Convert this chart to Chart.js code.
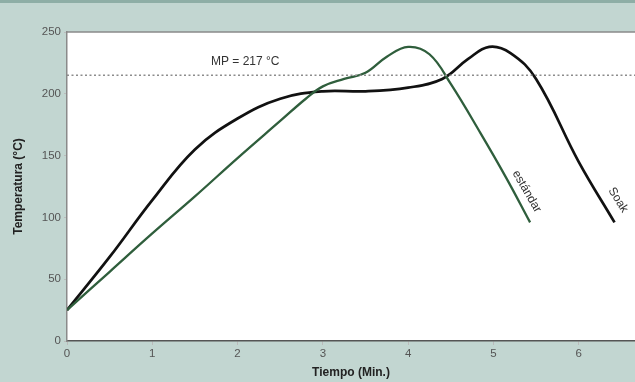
<!DOCTYPE html>
<html><head><meta charset="utf-8">
<script src="https://cdn.jsdelivr.net/npm/chart.js@4.4.1/dist/chart.umd.min.js"></script>
<style>
html,body{margin:0;padding:0;background:#c2d6d1;}
#wrap{width:635px;height:382px;position:relative;}
</style></head>
<body><div id="wrap"><canvas id="c" width="635" height="382"></canvas></div>
<script>
// Data (time in minutes, temperature in °C)
const soakTime  = [0, 0.5, 1, 1.5, 2, 2.5, 3, 3.5, 4, 4.4, 4.7, 4.95, 5.2, 5.5, 6.0, 6.42];
const soakTemp  = [25, 68, 114, 155, 180, 196, 202, 202, 205, 212, 228, 238, 233, 212, 145, 96];
const stdTime   = [0, 0.5, 1, 1.5, 2, 2.5, 2.8, 3.0, 3.25, 3.5, 3.75, 4.0, 4.25, 4.5, 4.85, 5.15, 5.43];
const stdTemp   = [25, 56, 87, 117, 148, 178, 196, 206, 212, 217, 230, 238, 232, 208, 168, 132, 96];
const mpTime    = [0, 6.66];
const mpTemp    = [215, 215];
const xTicks    = [0, 1, 2, 3, 4, 5, 6];
const yTicks    = [0, 50, 100, 150, 200, 250];
const labels    = [
  {text: 'MP = 217 °C', x: 2.09, y: 226, rot: 0},
  {text: 'estándar', x: 5.39, y: 121, rot: 60},
  {text: 'Soak', x: 6.46, y: 114, rot: 58}
];

const pts = (xs, ys) => xs.map((x, i) => ({x, y: ys[i]}));
const FONT = '"Liberation Sans", Arial, sans-serif';

const deco = {
  id: 'deco',
  beforeDraw(chart) {
    const c = chart.ctx;
    c.save();
    c.fillStyle = '#c2d6d1';
    c.fillRect(0, 0, chart.width, chart.height);
    c.fillStyle = '#8eaea6';
    c.fillRect(0, 0, chart.width, 3);
    const a = chart.chartArea;
    c.fillStyle = '#ffffff';
    c.fillRect(a.left, a.top, a.right - a.left, a.bottom - a.top);
    c.restore();
  },
  afterDraw(chart) {
    const c = chart.ctx, a = chart.chartArea;
    c.save();
    c.strokeStyle = '#8a8a8a';
    c.lineWidth = 1.5;
    c.beginPath(); c.moveTo(a.left, a.top); c.lineTo(a.right, a.top); c.stroke();
    const xs = chart.scales.x, ys = chart.scales.y;
    c.fillStyle = '#333333';
    c.font = '12px ' + FONT;
    c.textAlign = 'center'; c.textBaseline = 'middle';
    labels.forEach(l => {
      c.save();
      c.translate(xs.getPixelForValue(l.x), ys.getPixelForValue(l.y));
      c.rotate(l.rot * Math.PI / 180);
      c.fillText(l.text, 0, 0);
      c.restore();
    });
    c.restore();
  }
};

new Chart(document.getElementById('c'), {
  type: 'scatter',
  data: {
    datasets: [
      {data: pts(mpTime, mpTemp), showLine: true, borderColor: '#8c8c8c', borderWidth: 1.5, borderDash: [2, 2.5], pointRadius: 0, tension: 0},
      {data: pts(stdTime, stdTemp), showLine: true, borderColor: '#2f5e3c', borderWidth: 2.3, pointRadius: 0, tension: 0.4},
      {data: pts(soakTime, soakTemp), showLine: true, borderColor: '#111111', borderWidth: 2.7, pointRadius: 0, tension: 0.4}
    ]
  },
  options: {
    responsive: false, animation: false,
    layout: {padding: {left: 0, right: 0, top: 32, bottom: 0}},
    plugins: {legend: {display: false}, tooltip: {enabled: false}},
    scales: {
      x: {
        type: 'linear', min: 0, max: 6.66,
        afterBuildTicks: s => { s.ticks = xTicks.map(v => ({value: v})); },
        afterFit: s => { s.height = 41; },
        grid: {display: true, drawOnChartArea: false, tickLength: 4, color: '#bbbbbb'},
        border: {display: true, color: '#555555', width: 1.5},
        ticks: {color: '#555', font: {family: FONT, size: 11.5}, padding: 2, maxRotation: 0},
        title: {display: true, text: 'Tiempo (Min.)', color: '#222', font: {family: FONT, size: 12, weight: 'bold'}, padding: {top: 0, bottom: 2}}
      },
      y: {
        type: 'linear', min: 0, max: 250,
        afterBuildTicks: s => { s.ticks = yTicks.map(v => ({value: v})); },
        afterFit: s => { s.width = 67; },
        grid: {display: true, drawOnChartArea: false, tickLength: 3, color: '#bbbbbb'},
        border: {display: true, color: '#8a8a8a', width: 1.5},
        ticks: {color: '#555', font: {family: FONT, size: 11.5}, padding: 3},
        title: {display: true, text: 'Temperatura (°C)', color: '#222', font: {family: FONT, size: 12, weight: 'bold'}, padding: {top: 11, bottom: 4}}
      }
    }
  },
  plugins: [deco]
});
</script></body></html>
